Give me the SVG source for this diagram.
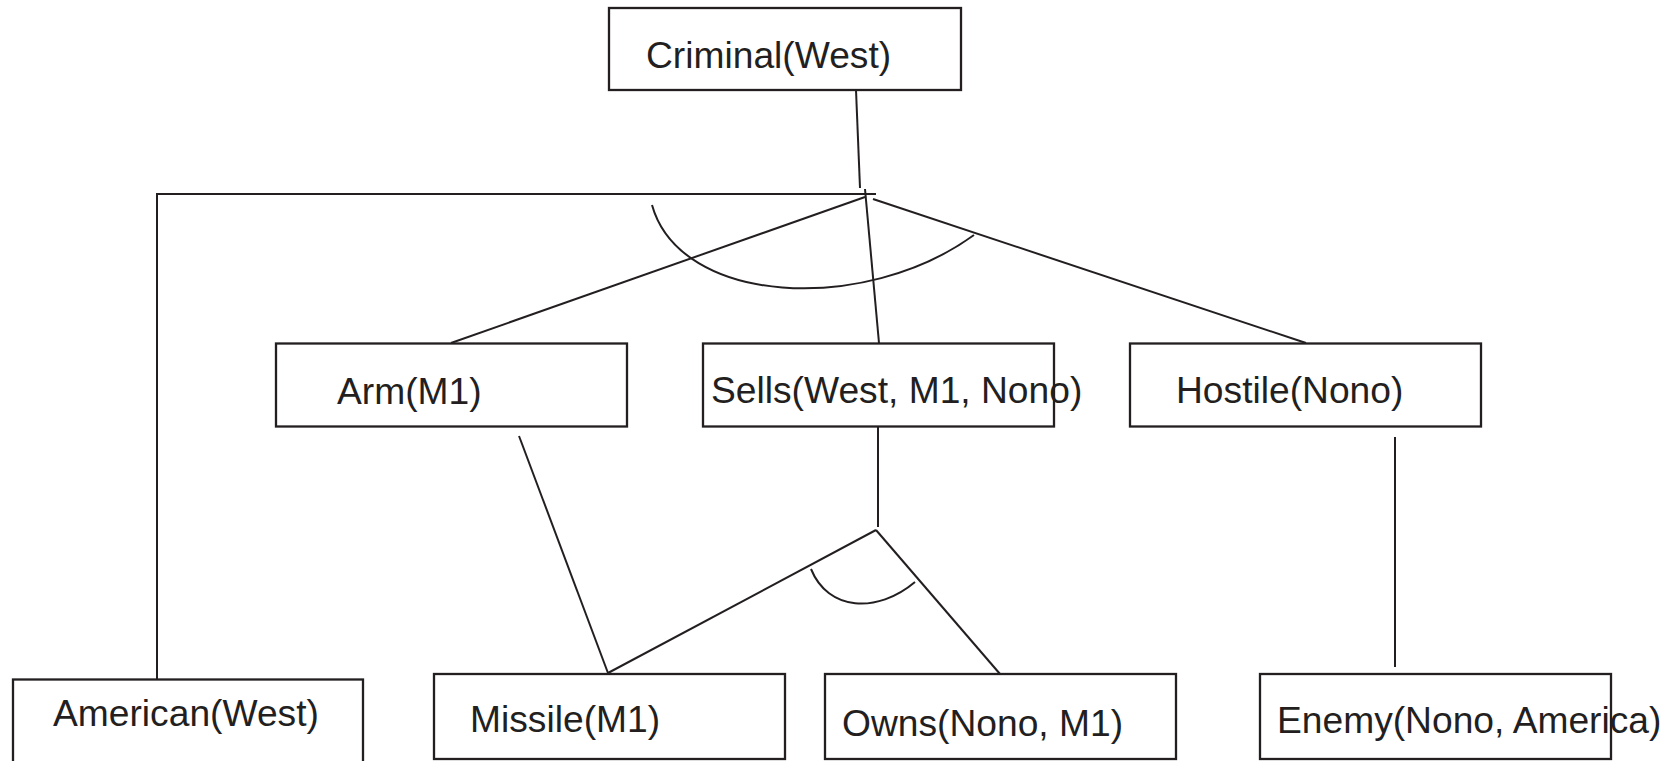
<svg xmlns="http://www.w3.org/2000/svg" width="1676" height="761" viewBox="0 0 1676 761">
<style>
.box{fill:#fff;stroke:#231f20;stroke-width:2.3}
.lbl{font-family:"Liberation Sans",Arial,sans-serif;font-size:37.2px;fill:#231f20}
.c{fill:none;stroke:#231f20;stroke-width:2}
</style>
<rect width="1676" height="761" fill="#fff"/>
<g id="connectors">
<line class="c" x1="856" y1="90" x2="860" y2="188"/>
<polyline class="c" points="157,679 157,194 876,194"/>
<line class="c" x1="865" y1="189" x2="879" y2="343"/>
<line class="c" x1="865" y1="197" x2="451" y2="343"/>
<line class="c" x1="873" y1="199" x2="1306" y2="343"/>
<path class="c" d="M652,205 C680,305 864,315 974,235"/>
<line class="c" x1="519" y1="436" x2="608" y2="673"/>
<line class="c" x1="878" y1="427" x2="878" y2="527"/>
<line class="c" x1="876" y1="530" x2="608" y2="673"/>
<line class="c" x1="876" y1="530" x2="1000" y2="674"/>
<path class="c" d="M811,569 C828,611 877,614 915,582"/>
<line class="c" x1="1395" y1="437" x2="1395" y2="667"/>
</g>
<g id="criminal"><rect class="box" x="609" y="8" width="352" height="82"/><text class="lbl" x="646" y="68">Criminal(West)</text></g>
<g id="arm"><rect class="box" x="276" y="343.5" width="351" height="83"/><text class="lbl" x="337" y="404">Arm(M1)</text></g>
<g id="sells"><rect class="box" x="703" y="343.5" width="351" height="83"/><text class="lbl" x="711" y="403">Sells(West, M1, Nono)</text></g>
<g id="hostile"><rect class="box" x="1130" y="343.5" width="351" height="83"/><text class="lbl" x="1176" y="403">Hostile(Nono)</text></g>
<g id="american"><rect class="box" x="13" y="679.5" width="350" height="84"/><text class="lbl" x="53" y="726">American(West)</text></g>
<g id="missile"><rect class="box" x="434" y="674" width="351" height="85"/><text class="lbl" x="470" y="732">Missile(M1)</text></g>
<g id="owns"><rect class="box" x="825" y="674" width="351" height="85"/><text class="lbl" x="842" y="736">Owns(Nono, M1)</text></g>
<g id="enemy"><rect class="box" x="1260" y="674" width="351" height="85"/><text class="lbl" x="1277" y="733">Enemy(Nono, America)</text></g>
</svg>
